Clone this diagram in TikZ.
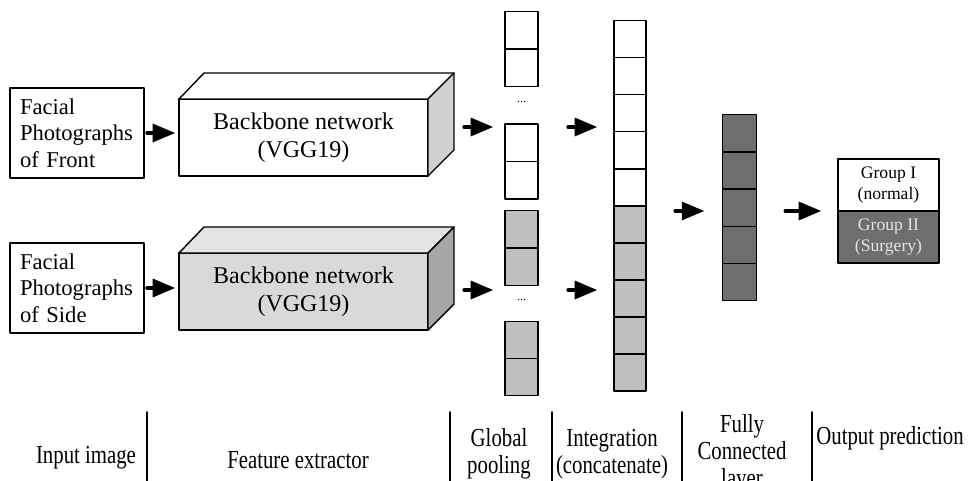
\documentclass[tikz,border=0pt]{standalone}
\usepackage{fontspec}
\setmainfont{Liberation Serif}
\newfontfamily\narrowserif[FakeStretch=0.8]{Liberation Serif}
\usetikzlibrary{arrows}
\definecolor{dadada}{rgb}{0.85,0.85,0.85}
\definecolor{e3e3e3}{rgb}{0.89,0.89,0.89}
\definecolor{a6a6a6}{rgb}{0.65,0.65,0.65}
\definecolor{d0d0d0}{rgb}{0.82,0.82,0.82}
\definecolor{bfbfbf}{rgb}{0.75,0.75,0.75}
\definecolor{sqsqsq}{rgb}{0.43,0.43,0.43}
\definecolor{e6e6e6}{rgb}{0.9,0.9,0.9}
\begin{document}
\begin{tikzpicture}[line cap=round,line join=round,>=triangle 45,x=0.5pt,y=-0.5pt,
  box/.style={draw,line width=0.7pt,inner sep=0pt,outer sep=0pt},
  face/.style={draw,line width=0.7pt},
  arr/.style={->,line width=1.6pt},
  lbl/.style={font=\narrowserif\fontsize{13}{13.5}\selectfont,align=center}]
\useasboundingbox (0,0) rectangle (973,481);
\clip(0,0) rectangle (973,481);
% input images
\node[box,minimum width=67pt,minimum height=45pt,text width=57pt,inner xsep=5pt,align=left,font=\fontsize{11.3}{13.25}\selectfont] (in1) at (77,133) {Facial\\Photographs\\of Front};
\node[box,minimum width=67pt,minimum height=45pt,text width=57pt,inner xsep=5pt,align=left,font=\fontsize{11.3}{13.25}\selectfont] (in2) at (77,288) {Facial\\Photographs\\of Side};
% backbones
\node[box,fill=white,minimum width=124.5pt,minimum height=38.5pt,align=center,font=\fontsize{12}{14}\selectfont] (bb1) at (303.5,137.5) {Backbone network\\(VGG19)};
\fill[face,fill=white] (bb1.north west) -- ++(25,-26) -- ++(250,0) -- (bb1.north east) -- cycle;
\fill[face,fill=d0d0d0] (bb1.north east) -- ++(26,-26) -- ++(0,77) -- (bb1.south east) -- cycle;
\node[box,fill=dadada,minimum width=124.5pt,minimum height=38.5pt,align=center,font=\fontsize{12}{14}\selectfont] (bb2) at (303.5,291.5) {Backbone network\\(VGG19)};
\fill[face,fill=e3e3e3] (bb2.north west) -- ++(25,-26) -- ++(250,0) -- (bb2.north east) -- cycle;
\fill[face,fill=a6a6a6] (bb2.north east) -- ++(26,-26) -- ++(0,77) -- (bb2.south east) -- cycle;
% global pooling
\node[box,minimum width=16.5pt,minimum height=37.5pt] (p1) at (521.5,49.2) {};
\draw[line width=0.7pt] (p1.west) -- (p1.east);
\node[font=\fontsize{6}{6}\selectfont] (d1) at (521.5,102) {...};
\node[box,minimum width=16.5pt,minimum height=37.5pt] (p2) at (521.5,161.5) {};
\draw[line width=0.7pt] (p2.west) -- (p2.east);
\node[box,fill=bfbfbf,minimum width=16.5pt,minimum height=37.5pt] (p3) at (521.5,248) {};
\draw[line width=0.7pt] (p3.west) -- (p3.east);
\node[font=\fontsize{6}{6}\selectfont] (d2) at (521.5,300) {...};
\node[box,fill=bfbfbf,minimum width=16.5pt,minimum height=37pt] (p4) at (521.5,358.5) {};
\draw[line width=0.7pt] (p4.west) -- (p4.east);
% concatenate
\node[box,minimum width=16pt,minimum height=92.85pt] (c1) at (630,113.15) {};
\draw[line width=0.7pt] (614,57.4) -- (646,57.4);
\draw[line width=0.7pt] (614,94.6) -- (646,94.6);
\draw[line width=0.7pt] (614,131.7) -- (646,131.7);
\draw[line width=0.7pt] (614,168.9) -- (646,168.9);
\node[box,fill=bfbfbf,minimum width=16pt,minimum height=92.5pt] (c2) at (630,298.5) {};
\draw[line width=0.7pt] (614,243) -- (646,243);
\draw[line width=0.7pt] (614,280) -- (646,280);
\draw[line width=0.7pt] (614,317) -- (646,317);
\draw[line width=0.7pt] (614,354) -- (646,354);
% fully connected
\node[box,fill=sqsqsq,minimum width=16.8pt,minimum height=93pt] (fc) at (739.5,207.7) {};
\draw[line width=0.7pt] (722.7,151.9) -- (756.3,151.9);
\draw[line width=0.7pt] (722.7,189.1) -- (756.3,189.1);
\draw[line width=0.7pt] (722.7,226.3) -- (756.3,226.3);
\draw[line width=0.7pt] (722.7,263.5) -- (756.3,263.5);
% output
\node[box,minimum width=50.5pt,minimum height=26pt,align=center,font=\fontsize{8.8}{10.75}\selectfont] (o1) at (888.5,185) {Group I\\(normal)};
\node[box,fill=sqsqsq,text=e6e6e6,minimum width=50.5pt,minimum height=25.85pt,align=center,font=\fontsize{8.8}{10.75}\selectfont] (o2) at (888.5,237) {Group II\\(Surgery)};
% arrows
\coordinate (r1) at (0,127);
\coordinate (r2) at (0,290);
\coordinate (r3) at (0,211);
\draw[arr,shorten <=1.5pt,shorten >=2pt] (in1.east) -- (in1.east -| bb1.west);
\draw[arr,shorten <=1.5pt,shorten >=2pt] (in2.east) -- (in2.east -| bb2.west);
\draw[arr,shorten <=18pt,shorten >=6pt] (bb1.east |- r1) -- (p2.west |- r1);
\draw[arr,shorten <=18pt,shorten >=6pt] (bb2.east |- r2) -- (p3.west |- r2);
\draw[arr,shorten <=15pt,shorten >=8.5pt] (p2.east |- r1) -- (c1.west |- r1);
\draw[arr,shorten <=15pt,shorten >=8.5pt] (p3.east |- r2) -- (c2.west |- r2);
\draw[arr,shorten <=14.5pt,shorten >=9.3pt] (c2.east |- r3) -- (fc.west |- r3);
\draw[arr,shorten <=14.4pt,shorten >=8.5pt] (fc.east |- r3) -- (o1.south west);
% stage labels
\draw[line width=1pt] (147,412) -- (147,481);
\draw[line width=1pt] (450,412) -- (450,481);
\draw[line width=1pt] (552,412) -- (552,481);
\draw[line width=1pt] (682,412) -- (682,481);
\draw[line width=1pt] (812,412) -- (812,481);
\node[lbl] (s1) at (86,458) {Input image};
\node[lbl] (s2) at (298,460) {Feature extractor};
\node[lbl] (s3) at (499,454) {Global\\pooling};
\node[lbl] (s4) at (612,454) {Integration\\(concatenate)};
\node[lbl] (s5) at (742,453) {Fully\\Connected\\layer};
\node[lbl] (s6) at (890,438) {Output prediction};
\end{tikzpicture}
\end{document}
